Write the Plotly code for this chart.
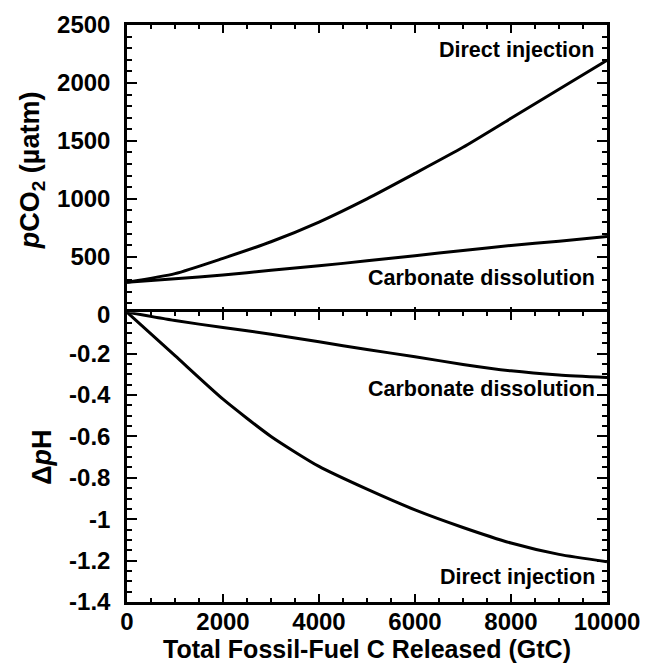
import plotly.graph_objects as go

# ---- data ----
carbon_released = [0, 1000, 2000, 3000, 4000, 5000, 6000, 7000, 8000, 9000, 10000]
pco2_direct = [280, 355, 487, 630, 800, 1000, 1220, 1445, 1695, 1945, 2195]
pco2_carbonate = [280, 310, 342, 383, 422, 465, 510, 555, 598, 635, 675]
dph_direct = [0, -0.21, -0.42, -0.60, -0.745, -0.855, -0.955, -1.04, -1.115, -1.17, -1.205]
dph_carbonate = [0, -0.04, -0.074, -0.106, -0.143, -0.18, -0.215, -0.252, -0.283, -0.303, -0.315]

x_tickvals = [0, 2000, 4000, 6000, 8000, 10000]
x_ticktext = ["0", "2000", "4000", "6000", "8000", "10000"]
pco2_tickvals = [0, 500, 1000, 1500, 2000, 2500]
dph_tickvals = [-1.4, -1.2, -1.0, -0.8, -0.6, -0.4, -0.2]
dph_ticktext = ["-1.4", "-1.2", "-1", "-0.8", "-0.6", "-0.4", "-0.2"]

FONT = "Liberation Sans"
tickfont = dict(family=FONT, size=24, color="black", weight="bold")
line = dict(color="black", width=3, shape="spline", smoothing=0.6)

fig = go.Figure()
fig.add_trace(go.Scatter(x=carbon_released, y=pco2_direct, mode="lines", line=line,
                         name="Direct injection", xaxis="x", yaxis="y"))
fig.add_trace(go.Scatter(x=carbon_released, y=pco2_carbonate, mode="lines", line=line,
                         name="Carbonate dissolution", xaxis="x", yaxis="y"))
fig.add_trace(go.Scatter(x=carbon_released, y=dph_carbonate, mode="lines", line=line,
                         name="Carbonate dissolution", xaxis="x2", yaxis="y2"))
fig.add_trace(go.Scatter(x=carbon_released, y=dph_direct, mode="lines", line=line,
                         name="Direct injection", xaxis="x2", yaxis="y2"))

axis_common = dict(showline=True, linecolor="black", linewidth=2.5, mirror="allticks",
                   ticks="inside", tickcolor="black", tickwidth=2, showgrid=False,
                   zeroline=False, automargin=False)

# overlap the two panels by one axis-line width so their shared edge is a single line
half = 1.25 / 577
fig.update_layout(
    # the page body adds an 8px offset, so the figure is sized to fit the window
    width=641, height=656,
    margin=dict(l=119, r=42, t=17, b=62),
    paper_bgcolor="white", plot_bgcolor="white",
    showlegend=False,
    xaxis=dict(**axis_common, domain=[0, 1], range=[0, 10000], anchor="y",
               tickvals=x_tickvals, ticklen=8, showticklabels=False,
               minor=dict(dtick=500, tick0=0, ticks="inside", ticklen=4, tickwidth=1.5,
                          tickcolor="black")),
    yaxis=dict(**axis_common, domain=[0.5 - half, 1], range=[0, 2500], anchor="x",
               tickvals=pco2_tickvals, ticklen=10, tickfont=tickfont, ticklabelstandoff=9,
               minor=dict(dtick=100, tick0=0, ticks="inside", ticklen=5, tickwidth=1.5,
                          tickcolor="black"),
               title=dict(text="<i>p</i>CO<sub>2</sub> (µatm)",
                          font=dict(family=FONT, size=27, color="black", weight="bold"),
                          standoff=10)),
    xaxis2=dict(**axis_common, domain=[0, 1], range=[0, 10000], anchor="y2",
                tickvals=x_tickvals, ticktext=x_ticktext, ticklen=8, tickfont=tickfont,
                ticklabelstandoff=-4,
                minor=dict(dtick=500, tick0=0, ticks="inside", ticklen=4, tickwidth=1.5,
                           tickcolor="black"),
                title=dict(text="Total Fossil-Fuel C Released (GtC)",
                           font=dict(family=FONT, size=25, color="black", weight="bold"),
                           standoff=2)),
    yaxis2=dict(**axis_common, domain=[0, 0.5 + half], range=[-1.4, 0], anchor="x2",
                tickvals=dph_tickvals, ticktext=dph_ticktext, ticklen=10, tickfont=tickfont,
                ticklabelstandoff=9,
                minor=dict(dtick=0.05, tick0=0, ticks="inside", ticklen=5, tickwidth=1.5,
                           tickcolor="black"),
                title=dict(text="Δ<i>p</i>H",
                           font=dict(family=FONT, size=27, color="black", weight="bold"),
                           standoff=10)),
)

ann_font = dict(family=FONT, size=21.5, color="black", weight="bold")
annotations = [
    dict(text="Direct injection", x=9770, y=2285, xref="x", yref="y"),
    dict(text="Carbonate dissolution", x=9790, y=315, xref="x", yref="y"),
    dict(text="Carbonate dissolution", x=9790, y=-0.371, xref="x2", yref="y2"),
    dict(text="Direct injection", x=9800, y=-1.277, xref="x2", yref="y2"),
]
for a in annotations:
    fig.add_annotation(**a, showarrow=False, xanchor="right", yanchor="middle", font=ann_font)

fig.write_html("out.html")
